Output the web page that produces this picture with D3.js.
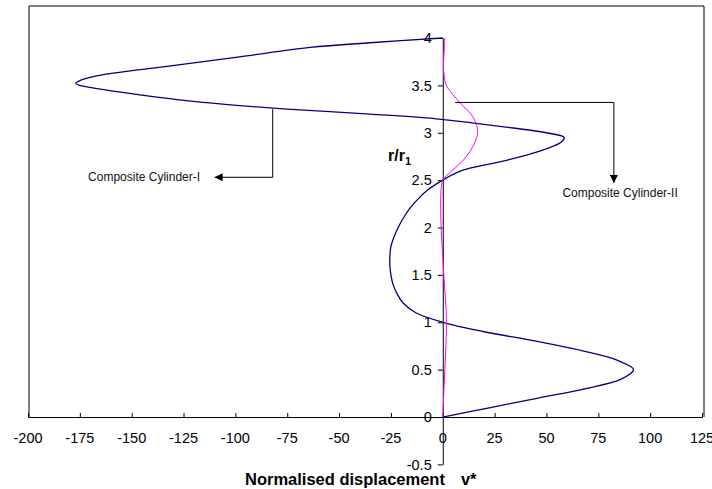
<!DOCTYPE html>
<html>
<head>
<meta charset="utf-8">
<script src="https://cdn.jsdelivr.net/npm/d3@7"></script>
<style>
    body { margin: 0; background: #fff; }
    svg { display: block; font-family: "Liberation Sans", Arial, sans-serif; }
</style>
</head>
<body>
<div id="chart"></div>
<script>
// Composite Cylinder-I (radius r/r1, normalised displacement v*)
const rCyl1 = [0, 0.1, 0.2, 0.3, 0.4, 0.5, 0.6, 0.7, 0.8, 0.9, 1.0, 1.1, 1.2, 1.3, 1.4, 1.5, 1.6, 1.7, 1.8, 1.9, 2.0,
    2.1, 2.2, 2.3, 2.4, 2.5, 2.6, 2.7, 2.8, 2.9, 2.95, 3.0, 3.05, 3.1, 3.15, 3.2, 3.25, 3.3, 3.35, 3.4, 3.45,
    3.5, 3.52, 3.55, 3.6, 3.7, 3.8, 3.9, 3.95, 4.0];
const vCyl1 = [0, 23, 46, 69, 86, 92, 84, 67, 45, 20, 0, -13, -19, -22, -24, -25, -25.5, -25.5, -25, -23.5, -21.5,
    -19, -16, -12, -7, 0, 9, 29, 46, 57, 58.5, 50, 34, 16, -4, -37, -75, -105, -128, -146, -162,
    -175, -177, -175, -167, -133, -98, -64, -35, 0];

// Composite Cylinder-II
const rCyl2 = [0, 0.25, 0.5, 0.75, 1.0, 1.25, 1.5, 1.75, 2.0, 2.25, 2.4, 2.5, 2.6, 2.7, 2.8, 2.9, 3.0, 3.1, 3.2,
    3.3, 3.4, 3.5, 3.6, 3.7, 3.8, 3.9, 4.0];
const vCyl2 = [0, 0.5, 1, 1.5, 1.8, 1.3, 0.5, -0.2, -0.8, -1, -0.8, 0, 4.5, 9.5, 13, 15.5, 16.8, 16, 13.5,
    9, 5, 1.7, 0.7, 0.3, 0.5, 0.8, 1];

const xTicks = [-200, -175, -150, -125, -100, -75, -50, -25, 0, 25, 50, 75, 100, 125];
const yTicks = [-0.5, 0, 0.5, 1, 1.5, 2, 2.5, 3, 3.5, 4];

// annotation callouts: [v, r] points along each leader line
const calloutCyl1 = [[-82, 3.25], [-82, 2.53], [-110, 2.53]];
const calloutCyl2 = [[6, 3.32], [82.5, 3.32], [82.5, 2.47]];

const width = 712, height = 489;

const x = d3.scaleLinear().domain([-200, 125]).range([28, 702]);
const y = d3.scaleLinear().domain([-0.5, 4]).range([464.4, 38]);

const svg = d3.select("#chart").append("svg")
    .attr("width", width)
    .attr("height", height);

svg.append("defs").append("marker")
    .attr("id", "arrow")
    .attr("viewBox", "0 0 10 10")
    .attr("refX", 10).attr("refY", 5)
    .attr("markerWidth", 8).attr("markerHeight", 8)
    .attr("markerUnits", "userSpaceOnUse")
    .attr("orient", "auto")
    .append("path")
    .attr("d", "M0,0L10,5L0,10Z")
    .attr("fill", "#000");

drawFrame();
drawAxes();
drawSeries(rCyl1, vCyl1, "#000080", 1.3);
drawSeries(rCyl2, vCyl2, "#ff00ff", 1);
drawCallout(calloutCyl1, "Composite Cylinder-I", -117, 2.53, "end");
drawCallout(calloutCyl2, "Composite Cylinder-II", 85.5, 2.37, "middle");

//Helper Functions

function drawFrame() {
    svg.append("path")
        .attr("d", `M${x(-200) + 1},${y(0)}V6H${x(125) + 2}V${y(0)}`)
        .attr("fill", "none")
        .attr("stroke", "#000")
        .attr("stroke-width", 1);
}

function drawAxes() {
    let xAxis = svg.append("g")
        .attr("transform", `translate(0,${y(0)})`)
        .call(d3.axisTop(x).tickValues(xTicks).tickSize(4).tickFormat(""));
    xAxis.select(".domain").attr("stroke", "#000");

    svg.append("g").selectAll("text")
        .data(xTicks)
        .enter().append("text")
        .attr("x", d => x(d))
        .attr("y", y(0) + 26)
        .attr("text-anchor", "middle")
        .attr("font-size", 14.5)
        .text(d => d);

    let yAxis = svg.append("g")
        .attr("transform", `translate(${x(0)},0)`)
        .call(d3.axisLeft(y).tickValues(yTicks).tickSize(5).tickSizeOuter(0).tickPadding(6)
            .tickFormat(d => String(d)));
    yAxis.select(".domain").attr("stroke", "#000");
    yAxis.selectAll("text")
        .attr("font-size", 14.5)
        .attr("font-family", "Liberation Sans, Arial, sans-serif")
        .attr("fill", "#000");

    let yTitle = svg.append("text")
        .attr("x", 388)
        .attr("y", 161)
        .attr("font-size", 16)
        .attr("font-weight", "bold")
        .text("r/r");
    yTitle.append("tspan")
        .attr("font-size", 11)
        .attr("dy", 4)
        .text("1");

    let xTitle = svg.append("text")
        .attr("x", 245)
        .attr("y", 485)
        .attr("font-size", 16.5)
        .attr("font-weight", "bold")
        .text("Normalised displacement");
    xTitle.append("tspan")
        .attr("dx", 16)
        .text("v*");
}

function drawSeries(rs, vs, color, strokeWidth) {
    let pts = rs.map((r, i) => ({ r: r, v: vs[i] }));
    let line = d3.line()
        .x(d => x(d.v))
        .y(d => y(d.r))
        .curve(d3.curveCatmullRom.alpha(0.5));

    svg.append("path")
        .datum(pts)
        .attr("d", line)
        .attr("fill", "none")
        .attr("stroke", color)
        .attr("stroke-width", strokeWidth);
}

function drawCallout(points, label, lv, lr, anchor) {
    svg.append("path")
        .attr("d", d3.line().x(d => x(d[0])).y(d => y(d[1]))(points))
        .attr("fill", "none")
        .attr("stroke", "#000")
        .attr("stroke-width", 1)
        .attr("marker-end", "url(#arrow)");

    svg.append("text")
        .attr("x", x(lv))
        .attr("y", y(lr))
        .attr("dy", "0.35em")
        .attr("text-anchor", anchor)
        .attr("font-size", 12)
        .attr("fill", "#111")
        .text(label);
}
</script>
</body>
</html>
